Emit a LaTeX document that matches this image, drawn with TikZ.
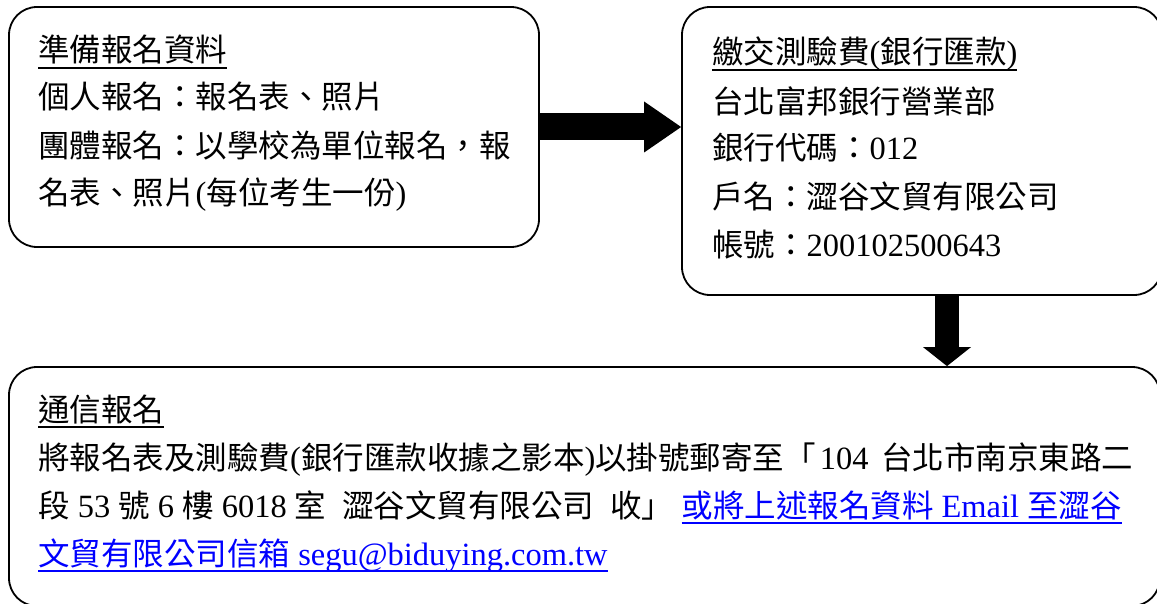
\documentclass[tikz,border=0pt]{standalone}
\usepackage{fontspec}
\setmainfont[Scale=1.03]{Liberation Serif}
\newfontfamily\cjk{Noto Sans CJK TC}
\usetikzlibrary{arrows.meta}
\definecolor{linkblue}{RGB}{0,0,255}
\newcommand\lat[1]{{\rmfamily #1}}
\newcommand\myul[1]{\setbox0=\hbox{#1}\rlap{\rule[-7pt]{\wd0}{2pt}}\box0}
\begin{document}
\begin{tikzpicture}[x=1pt,y=-1pt,
  box/.style={draw, line width=1.8pt, rounded corners=28pt, inner sep=0pt},
  txt/.style={anchor=base west, inner sep=0pt, font=\cjk\fontsize{31.5pt}{40pt}\selectfont},
  bigarrow/.style={draw=black}
]
\useasboundingbox (0,0) rectangle (1157,604);
\clip (0,0) rectangle (1157,604);
% boxes
\node[box, minimum width=530pt, minimum height=240pt] (box1) at (274,127) {};
\node[box, minimum width=480pt, minimum height=288pt] (box2) at (922,151) {};
\node[box, minimum width=1151pt, minimum height=239pt] (box3) at (584.5,486.5) {};
% box 1 text
\node[txt] (b1a) at (38,62) {\myul{準備報名資料}};
\node[txt] (b1b) at (38,109) {個人報名：報名表、照片};
\node[txt] (b1c) at (38,158) {團體報名：以學校為單位報名，報};
\node[txt] (b1d) at (38,205) {名表、照片\lat{(}每位考生一份\lat{)}};
% box 2 text
\node[txt] (b2a) at (712,64) {\myul{繳交測驗費\lat{(}銀行匯款\lat{)}}};
\node[txt] (b2b) at (712,114) {台北富邦銀行營業部};
\node[txt] (b2c) at (712,160) {銀行代碼：\lat{012}};
\node[txt] (b2d) at (712,209) {戶名：澀谷文貿有限公司};
\node[txt] (b2e) at (712,257) {帳號：\lat{200102500643}};
% box 3 text
\node[txt] (b3a) at (38,421) {\myul{通信報名}};
\node[txt] (b3b) at (38,469) {將報名表及測驗費\lat{(}銀行匯款收據之影本\lat{)}以掛號郵寄至「\hspace{4pt}\lat{104}\hspace{13pt}台北市南京東路二};
\node[txt] (b3c) at (38,517) {段\lat{ 53 }號\lat{ 6 }樓\lat{ 6018 }室\hspace{16pt}澀谷文貿有限公司\hspace{16pt}收」\lat{ }{\color{linkblue}\myul{或將上述報名資料\lat{ Email }至澀谷}}};
\node[txt] (b3d) at (38,565) {{\color{linkblue}\myul{文貿有限公司信箱\lat{ segu@biduying.com.tw}}}};
% arrows
\coordinate (dx) at (947,0);
\draw[bigarrow, line width=27pt, -{Triangle[length=37pt, width=51pt, line width=0pt]}] (box1.east) -- (box1.east -| box2.west);
\draw[bigarrow, line width=24pt, -{Triangle[length=19pt, width=48pt, line width=0pt]}] (box2.south -| dx) -- (box3.north -| dx);
\end{tikzpicture}
\end{document}
